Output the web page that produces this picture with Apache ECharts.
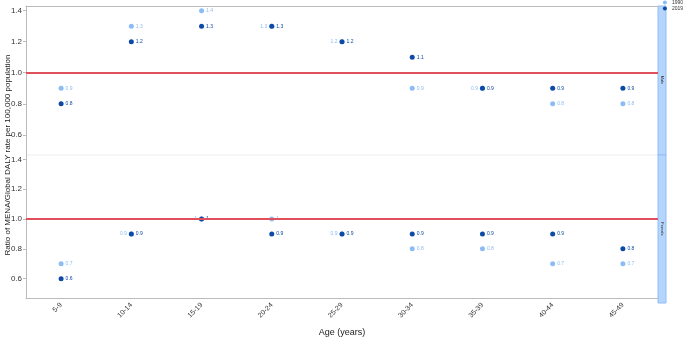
<!DOCTYPE html>
<html>
<head>
<meta charset="utf-8">
<script src="https://cdn.jsdelivr.net/npm/echarts@6/dist/echarts.min.js"></script>
<style>
  html, body { margin: 0; padding: 0; background: #fff; }
  #chart { width: 685px; height: 338px; }
</style>
</head>
<body>
<div id="chart"></div>
<script>
const ageGroups = ["5-9", "10-14", "15-19", "20-24", "25-29", "30-34", "35-39", "40-44", "45-49"];
const male1990 = [0.9, 1.3, 1.4, 1.3, 1.2, 0.9, 0.9, 0.8, 0.8];
const male2019 = [0.8, 1.2, 1.3, 1.3, 1.2, 1.1, 0.9, 0.9, 0.9];
const female1990 = [0.7, 0.9, 1.0, 1.0, 0.9, 0.8, 0.8, 0.7, 0.7];
const female2019 = [0.6, 0.9, 1.0, 0.9, 0.9, 0.9, 0.9, 0.9, 0.8];
const panels = ["Male", "Female"];

const light = "#8cbcf3";
const dark = "#0c4aa6";
const font = "Liberation Sans";

const chart = echarts.init(document.getElementById("chart"));

// light label goes left when both years share the same value
function points(values, other, isLight) {
  return values.map((v, i) => ({
    value: v,
    label: { position: v === other[i] ? (isLight ? "left" : "right") : "right" }
  }));
}

function dotSeries(name, color, idx, data) {
  return {
    type: "scatter",
    name: name,
    xAxisIndex: idx,
    yAxisIndex: idx,
    symbolSize: 5,
    itemStyle: { color: color, opacity: 1 },
    label: {
      show: true,
      formatter: p => String(p.value),
      fontSize: 5,
      fontFamily: font,
      color: color,
      distance: 2
    },
    data: data,
    z: name === "2019" ? 4 : 3
  };
}

function refLine() {
  return {
    silent: true,
    symbol: ["none", "none"],
    label: { show: false },
    lineStyle: { color: "#e0505c", width: 2, type: "solid" },
    data: [{ yAxis: 1 }]
  };
}

const yCommon = {
  type: "value",
  min: 0.47,
  max: 1.43,
  splitNumber: 5,
  splitLine: { show: false },
  axisLine: { show: true, lineStyle: { color: "#bbb" } },
  axisTick: { show: true, length: 3, lineStyle: { color: "#bbb" } },
  axisLabel: {
    fontSize: 8, fontFamily: font, color: "#333", margin: 4,
    showMinLabel: false, showMaxLabel: false,
    formatter: v => v.toFixed(1)
  }
};

const s1 = dotSeries("1990", light, 0, points(male1990, male2019, true));
s1.markLine = refLine();
const s3 = dotSeries("1990", light, 1, points(female1990, female2019, true));
s3.markLine = refLine();

chart.setOption({
  animation: false,
  textStyle: { fontFamily: font },
  legend: {
    data: ["1990", "2019"],
    orient: "vertical",
    right: 2,
    top: 0,
    itemWidth: 4,
    itemHeight: 4,
    itemGap: 1,
    padding: 0,
    textStyle: { fontSize: 5, color: "#333" }
  },
  grid: [
    { left: 26, right: 27, top: 6, height: 149 },
    { left: 26, right: 27, top: 155, height: 148 }
  ],
  xAxis: [
    {
      type: "category", gridIndex: 0, data: ageGroups, position: "top",
      axisLine: { lineStyle: { color: "#bbb" } },
      axisTick: { show: false }, axisLabel: { show: false }
    },
    {
      type: "category", gridIndex: 1, data: ageGroups,
      name: "Age (years)", nameLocation: "middle", nameGap: 30,
      nameTextStyle: { fontSize: 9, color: "#222", fontFamily: font },
      axisLine: { lineStyle: { color: "#bbb" } },
      axisTick: { show: false },
      axisLabel: { rotate: 45, fontSize: 7, color: "#333", fontFamily: font, margin: 6 }
    }
  ],
  yAxis: [
    Object.assign({ gridIndex: 0 }, yCommon),
    Object.assign({ gridIndex: 1 }, yCommon)
  ],
  graphic: [
    {
      type: "text", x: 8, y: 155, rotation: Math.PI / 2,
      style: {
        text: "Ratio of MENA/Global DALY rate per 100,000 population",
        fontSize: 8, fill: "#222", fontFamily: font,
        align: "center", verticalAlign: "middle"
      }
    },
    { type: "line", shape: { x1: 26, y1: 155, x2: 658, y2: 155 }, style: { stroke: "#eee", lineWidth: 1 } },
    { type: "rect", shape: { x: 658, y: 6, width: 8, height: 149 }, style: { fill: "#b5d5fc", stroke: "#90bdf6", lineWidth: 1 } },
    { type: "rect", shape: { x: 658, y: 155, width: 8, height: 148 }, style: { fill: "#b5d5fc", stroke: "#90bdf6", lineWidth: 1 } },
    {
      type: "text", x: 662, y: 80, rotation: -Math.PI / 2,
      style: { text: panels[0], fontSize: 4, fill: "#222", fontFamily: font, align: "center", verticalAlign: "middle" }
    },
    {
      type: "text", x: 662, y: 229, rotation: -Math.PI / 2,
      style: { text: panels[1], fontSize: 4, fill: "#222", fontFamily: font, align: "center", verticalAlign: "middle" }
    }
  ],
  series: [
    s1,
    dotSeries("2019", dark, 0, points(male2019, male1990, false)),
    s3,
    dotSeries("2019", dark, 1, points(female2019, female1990, false))
  ]
});
</script>
</body>
</html>
